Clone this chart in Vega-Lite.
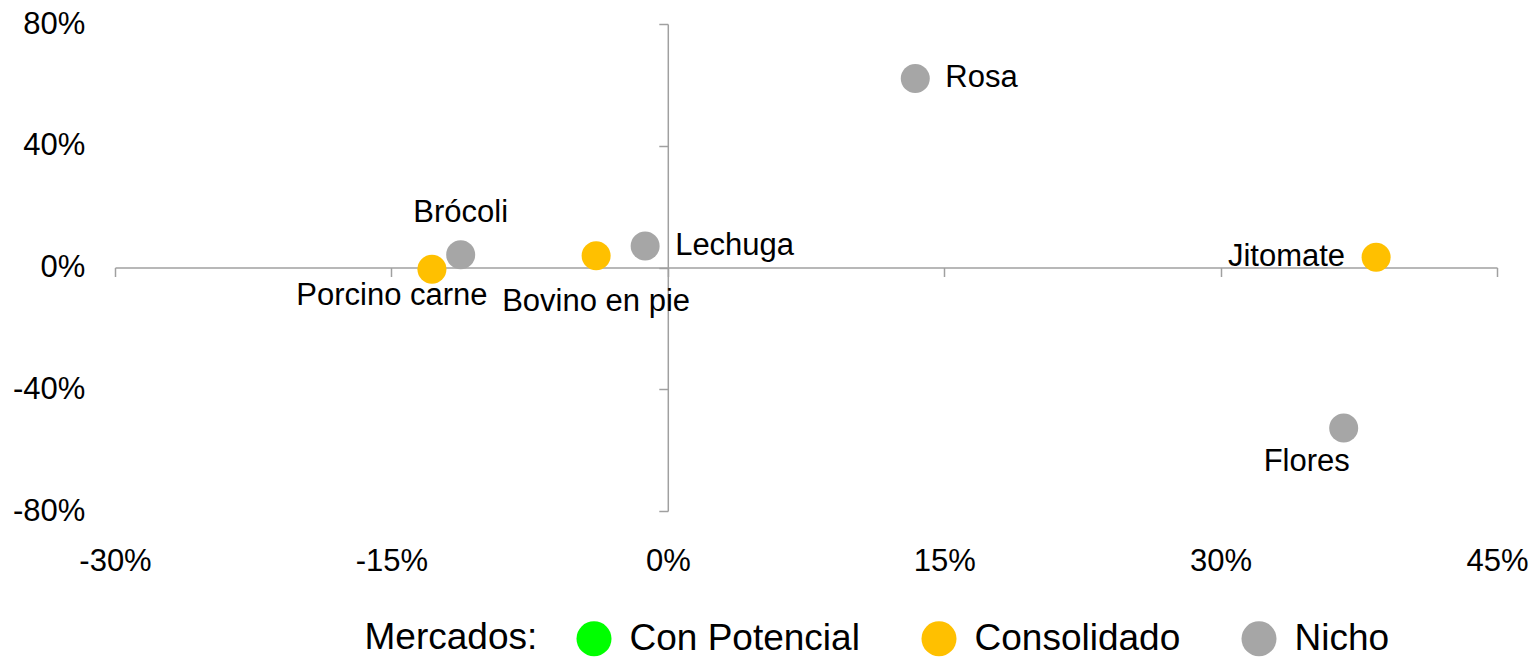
{
  "$schema": "https://vega.github.io/schema/vega-lite/v6.json",
  "width": 1382,
  "height": 487,
  "autosize": {"type": "none"},
  "padding": {"left": 115, "top": 24, "right": 36, "bottom": 146},
  "background": "white",
  "config": {"view": {"stroke": null}, "font": "Liberation Sans"},
  "data": {
    "values": [
      {"producto": "Rosa", "x": 0.1343, "y": 0.621, "mercado": "Nicho"},
      {"producto": "Brócoli", "x": -0.1124, "y": 0.042, "mercado": "Nicho"},
      {"producto": "Lechuga", "x": -0.0123, "y": 0.071, "mercado": "Nicho"},
      {"producto": "Bovino en pie", "x": -0.0389, "y": 0.039, "mercado": "Consolidado"},
      {"producto": "Porcino carne", "x": -0.128, "y": -0.006, "mercado": "Consolidado"},
      {"producto": "Jitomate", "x": 0.3844, "y": 0.034, "mercado": "Consolidado"},
      {"producto": "Flores", "x": 0.3668, "y": -0.527, "mercado": "Nicho"}
    ]
  },
  "encoding": {
    "x": {
      "field": "x",
      "type": "quantitative",
      "scale": {"domain": [-0.3, 0.45], "nice": false, "zero": false},
      "axis": {
        "values": [-0.3, -0.15, 0, 0.15, 0.3, 0.45],
        "labelExpr": "replace(format(datum.value, '.0%'), '\u2212', '-')",
        "title": null,
        "grid": false,
        "offset": -243.5,
        "tickSize": 9,
        "labelPadding": 270,
        "labelFlush": false,
        "labelOverlap": false,
        "labelFontSize": 31,
        "labelColor": "black",
        "domainColor": "#a0a0a0",
        "tickColor": "#a0a0a0",
        "domainWidth": 1.5,
        "tickWidth": 1.5
      }
    },
    "y": {
      "field": "y",
      "type": "quantitative",
      "scale": {"domain": [-0.8, 0.8], "nice": false, "zero": false},
      "axis": {
        "values": [-0.8, -0.4, 0, 0.4, 0.8],
        "labelExpr": "replace(format(datum.value, '.0%'), '\u2212', '-')",
        "title": null,
        "grid": false,
        "offset": -552.8,
        "tickSize": 9,
        "labelPadding": 574,
        "labelFlush": false,
        "labelOverlap": false,
        "labelFontSize": 31,
        "labelColor": "black",
        "domainColor": "#a0a0a0",
        "tickColor": "#a0a0a0",
        "domainWidth": 1.5,
        "tickWidth": 1.5
      }
    }
  },
  "layer": [
    {
      "mark": {"type": "circle", "size": 841, "opacity": 1},
      "encoding": {
        "color": {
          "field": "mercado",
          "type": "nominal",
          "scale": {
            "domain": ["Con Potencial", "Consolidado", "Nicho"],
            "range": ["#00ff00", "#ffc000", "#a6a6a6"]
          },
          "legend": {
            "orient": "none",
            "legendX": 249.5,
            "legendY": 596,
            "direction": "horizontal",
            "title": "Mercados:",
            "titleOrient": "left",
            "titleFontSize": 37,
            "titleFontWeight": "normal",
            "titleColor": "black",
            "titlePadding": 38,
            "titleLimit": 1000,
            "labelFontSize": 37,
            "labelColor": "black",
            "labelOffset": 17,
            "labelLimit": 1000,
            "columnPadding": 60,
            "symbolSize": 1225,
            "symbolType": "circle",
            "symbolStrokeWidth": 0,
            "symbolOpacity": 1,
            "padding": 0
          }
        }
      }
    },
    {
      "transform": [{"filter": {"field": "producto", "oneOf": ["Rosa", "Lechuga"]}}],
      "mark": {"type": "text", "align": "left", "baseline": "middle", "dx": 30, "fontSize": 31, "color": "black"},
      "encoding": {"text": {"field": "producto"}}
    },
    {
      "transform": [{"filter": {"field": "producto", "equal": "Brócoli"}}],
      "mark": {"type": "text", "align": "center", "baseline": "alphabetic", "dy": -33, "fontSize": 31, "color": "black"},
      "encoding": {"text": {"field": "producto"}}
    },
    {
      "transform": [{"filter": {"field": "producto", "equal": "Bovino en pie"}}],
      "mark": {"type": "text", "align": "center", "baseline": "alphabetic", "dy": 55, "fontSize": 31, "color": "black"},
      "encoding": {"text": {"field": "producto"}}
    },
    {
      "transform": [{"filter": {"field": "producto", "equal": "Porcino carne"}}],
      "mark": {"type": "text", "align": "center", "baseline": "alphabetic", "dx": -40, "dy": 36, "fontSize": 31, "color": "black"},
      "encoding": {"text": {"field": "producto"}}
    },
    {
      "transform": [{"filter": {"field": "producto", "equal": "Flores"}}],
      "mark": {"type": "text", "align": "center", "baseline": "alphabetic", "dx": -37, "dy": 43, "fontSize": 31, "color": "black"},
      "encoding": {"text": {"field": "producto"}}
    },
    {
      "transform": [{"filter": {"field": "producto", "equal": "Jitomate"}}],
      "mark": {"type": "text", "align": "right", "baseline": "middle", "dx": -31, "fontSize": 31, "color": "black"},
      "encoding": {"text": {"field": "producto"}}
    }
  ]
}
